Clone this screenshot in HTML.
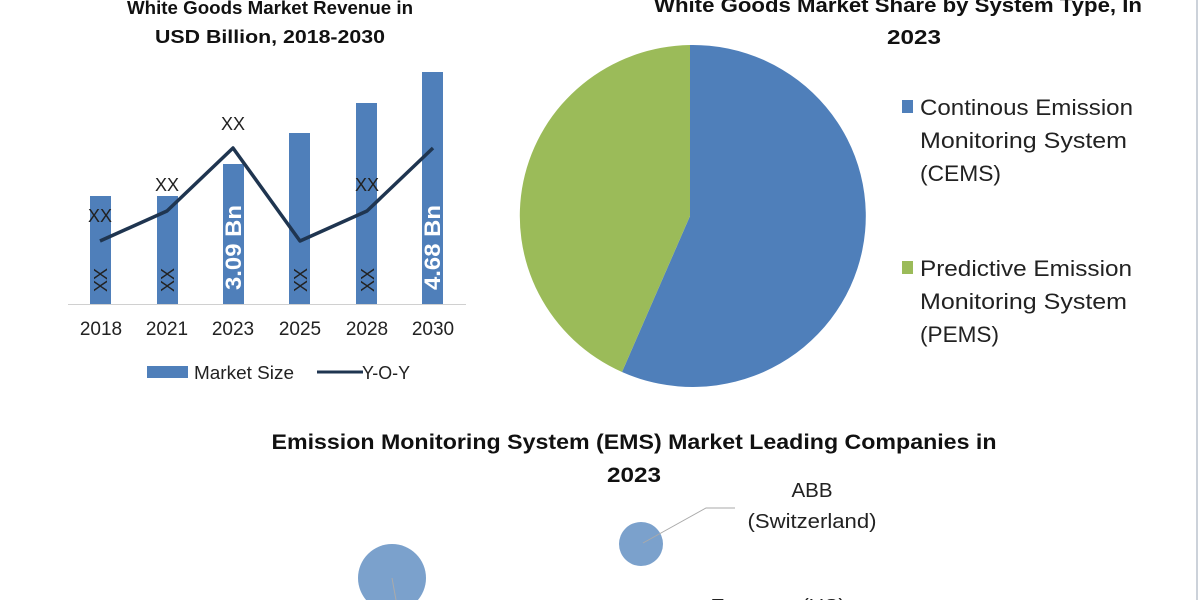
<!DOCTYPE html>
<html><head><meta charset="utf-8"><style>
html,body{margin:0;padding:0;background:#fff;width:1200px;height:600px;overflow:hidden}
svg text{font-family:"Liberation Sans",sans-serif}
</style></head><body>
<svg width="1200" height="600" xmlns="http://www.w3.org/2000/svg">
<line x1="1197" y1="0" x2="1197" y2="600" stroke="#9aa6b4" stroke-width="1"/>
<g font-weight="bold" font-size="18" fill="#111" text-anchor="middle">
<text x="270" y="14" textLength="286" lengthAdjust="spacingAndGlyphs">White Goods Market Revenue in</text>
<text x="270" y="43" textLength="230" lengthAdjust="spacingAndGlyphs">USD Billion, 2018-2030</text>
</g>
<g fill="#4f7fba">
<rect x="90" y="196" width="21" height="108"/>
<rect x="157" y="196" width="21" height="108"/>
<rect x="223" y="164" width="21" height="140"/>
<rect x="289" y="133" width="21" height="171"/>
<rect x="356" y="103" width="21" height="201"/>
<rect x="422" y="72" width="21" height="232"/>
</g>
<line x1="68" y1="304.5" x2="466" y2="304.5" stroke="#d0d0d0" stroke-width="1"/>
<polyline points="100,241 167,211 233,148 300,241 367,211 433,148" fill="none" stroke="#1f3550" stroke-width="3.5" stroke-linejoin="round"/>
<g font-size="18" fill="#222" text-anchor="middle">
<text x="100" y="222">XX</text><text x="167" y="191">XX</text><text x="233" y="130">XX</text><text x="367" y="191">XX</text>
</g>
<g font-size="18" fill="#222">
<text transform="translate(107,292) rotate(-90)">XX</text>
<text transform="translate(174,292) rotate(-90)">XX</text>
<text transform="translate(307,292) rotate(-90)">XX</text>
<text transform="translate(374,292) rotate(-90)">XX</text>
</g>
<g font-size="22" font-weight="bold" fill="#fff">
<text transform="translate(241,290) rotate(-90)" textLength="85" lengthAdjust="spacingAndGlyphs">3.09 Bn</text>
<text transform="translate(440,290) rotate(-90)" textLength="85" lengthAdjust="spacingAndGlyphs">4.68 Bn</text>
</g>
<g font-size="19" fill="#222" text-anchor="middle">
<text x="101" y="335">2018</text><text x="167" y="335">2021</text><text x="233" y="335">2023</text>
<text x="300" y="335">2025</text><text x="367" y="335">2028</text><text x="433" y="335">2030</text>
</g>
<rect x="147" y="366" width="41" height="12" fill="#4f7fba"/>
<text x="194" y="379" font-size="18" fill="#222" textLength="100" lengthAdjust="spacingAndGlyphs">Market Size</text>
<line x1="317" y1="372" x2="363" y2="372" stroke="#1f3550" stroke-width="3"/>
<text x="362" y="379" font-size="18" fill="#222" textLength="48" lengthAdjust="spacingAndGlyphs">Y-O-Y</text>
<g font-weight="bold" font-size="20" fill="#111" text-anchor="middle">
<text x="898" y="12" textLength="488" lengthAdjust="spacingAndGlyphs">White Goods Market Share by System Type, In</text>
<text x="914" y="44" textLength="54" lengthAdjust="spacingAndGlyphs">2023</text>
</g>
<path d="M690,216 L690,45 A173,171 0 1,1 622,372 Z" fill="#4f7fba"/>
<path d="M690,216 L622,372 A173,171 0 0,1 690,45 Z" fill="#9bbb59"/>
<g font-size="22" fill="#222">
<rect x="902" y="100" width="11" height="13" fill="#4f7fba"/>
<text x="920" y="115" textLength="213" lengthAdjust="spacingAndGlyphs">Continous Emission</text>
<text x="920" y="148" textLength="207" lengthAdjust="spacingAndGlyphs">Monitoring System</text>
<text x="920" y="181" textLength="81" lengthAdjust="spacingAndGlyphs">(CEMS)</text>
<rect x="902" y="261" width="11" height="13" fill="#9bbb59"/>
<text x="920" y="276" textLength="212" lengthAdjust="spacingAndGlyphs">Predictive Emission</text>
<text x="920" y="309" textLength="207" lengthAdjust="spacingAndGlyphs">Monitoring System</text>
<text x="920" y="342" textLength="79" lengthAdjust="spacingAndGlyphs">(PEMS)</text>
</g>
<g font-weight="bold" font-size="21" fill="#111" text-anchor="middle">
<text x="634" y="449" textLength="725" lengthAdjust="spacingAndGlyphs">Emission Monitoring System (EMS) Market Leading Companies in</text>
<text x="634" y="482" textLength="54" lengthAdjust="spacingAndGlyphs">2023</text>
</g>
<ellipse cx="641" cy="544" rx="22" ry="22" fill="#7ba1cc"/>
<ellipse cx="392" cy="578" rx="34" ry="34" fill="#7ba1cc"/>
<polyline points="643,543 706,508 735,508" fill="none" stroke="#aaa" stroke-width="1"/>
<line x1="392" y1="578" x2="396" y2="600" stroke="#aaa" stroke-width="1"/>
<g font-size="20" fill="#222" text-anchor="middle">
<text x="812" y="497" textLength="41" lengthAdjust="spacingAndGlyphs">ABB</text>
<text x="812" y="528" textLength="129" lengthAdjust="spacingAndGlyphs">(Switzerland)</text>
<text x="778" y="613" textLength="135" lengthAdjust="spacingAndGlyphs">Emerson (US)</text>
</g>
</svg>
</body></html>
